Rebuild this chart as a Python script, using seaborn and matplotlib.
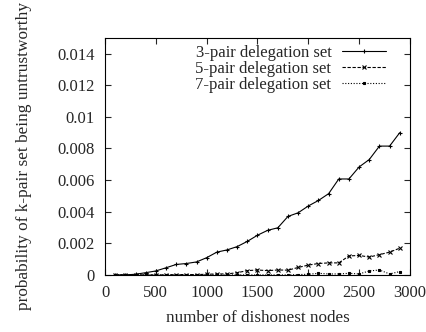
import matplotlib
matplotlib.use("Agg")
import matplotlib.pyplot as plt
import seaborn as sns
import pandas as pd
import numpy as np

# number of dishonest nodes
nodes = list(range(100, 3000, 100))

pair3 = [0.0, 0.0, 0.00004, 0.00014, 0.00025, 0.00045, 0.00066, 0.00072, 0.00082, 0.00109,
         0.00144, 0.00158, 0.00179, 0.00212, 0.00251, 0.00282, 0.00298, 0.0037, 0.00393, 0.00436,
         0.00471, 0.00514, 0.00607, 0.00607, 0.00683, 0.0073, 0.00815, 0.00815, 0.0090]
pair5 = [0.0, 0.0, 0.0, 0.0, 0.0, 0.0, 0.00002, 0.00002, 0.00002, 0.00004,
         0.00006, 0.00006, 0.00014, 0.00027, 0.00031, 0.00027, 0.00031, 0.0003, 0.00047, 0.00062,
         0.00072, 0.00076, 0.00076, 0.0012, 0.00123, 0.00113, 0.00128, 0.00144, 0.00169]
pair7 = [0.0, 0.0, 0.0, 0.0, 0.0, 0.0, 0.0, 0.0, 0.0, 0.0,
         0.0, 0.0, 0.0, 0.0, 0.0, 0.0, 0.0, 0.0, 0.00002, 0.00004,
         0.0001, 0.00006, 0.00006, 0.0001, 0.00006, 0.00025, 0.00031, 0.00006, 0.00021]

labels = ["3-pair delegation set", "5-pair delegation set", "7-pair delegation set"]

df = pd.DataFrame({"nodes": nodes * 3,
                   "prob": pair3 + pair5 + pair7,
                   "set": [labels[0]] * len(nodes) + [labels[1]] * len(nodes) + [labels[2]] * len(nodes)})

sns.set_style("ticks")
plt.rcParams["font.family"] = ["Liberation Serif", "DejaVu Serif"]

fig = plt.figure(figsize=(4.27, 3.32), dpi=100)
ax = fig.add_axes([0.246, 0.172, 0.714, 0.714])

styles = [("-", "+", 3.5), ((0, (3, 1.5)), "x", 3), ((0, (1, 1.5)), "s", 2)]
for lab, (ls, mk, ms) in zip(labels, styles):
    sub = df[df["set"] == lab]
    sns.lineplot(data=sub, x="nodes", y="prob", ax=ax, color="black", linewidth=0.8,
                 linestyle=ls, marker=mk, markersize=ms, markeredgewidth=0.8,
                 markeredgecolor="black", label=lab)

ax.set_xlim(0, 3000)
ax.set_ylim(0, 0.015)
ax.set_xticks(np.arange(0, 3001, 500))
ax.set_yticks(np.arange(0, 0.0141, 0.002))
ax.set_yticklabels(["0", "0.002", "0.004", "0.006", "0.008", "0.01", "0.012", "0.014"])
ax.tick_params(direction="in", top=True, right=True, labelsize=12, length=4, width=0.8, pad=7.5)
for sp in ax.spines.values():
    sp.set_linewidth(0.8)
    sp.set_color("black")

ax.set_xlabel("number of dishonest nodes", fontsize=12.3, labelpad=6)
ax.set_ylabel("probability of k-pair set being untrustworthy", fontsize=12.4, labelpad=18)

leg = ax.legend(loc="upper right", frameon=False, markerfirst=False, fontsize=12,
                handlelength=2.65, handletextpad=0.65, labelspacing=0.0,
                bbox_to_anchor=(0.945, 1.0), borderaxespad=0.2, borderpad=0.2)

fig.savefig("out.png", dpi=100)
